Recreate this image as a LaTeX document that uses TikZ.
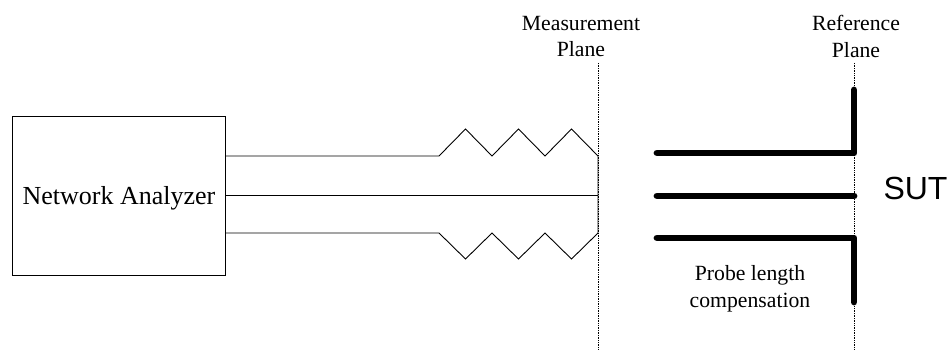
\documentclass[tikz,border=0pt]{standalone}
\usepackage{fontspec}
\setmainfont{Liberation Serif}
\newfontfamily\sutfont{Liberation Sans}

\tikzset{
    label/.style={align=center, inner sep=0pt, font=\fontsize{21.7}{26.5}\selectfont},
    wire/.style={line width=0.9pt, line join=miter},
    probe/.style={line width=6.8pt, line cap=round, line join=round},
    plane/.style={line width=0.7pt, densely dotted}
}

\begin{document}
\begin{tikzpicture}[x=1pt, y=-1pt]
    \useasboundingbox (0, 0) rectangle (950, 350);

    % Analyzer
    \node[draw, line width=0.9pt, minimum width=213pt, minimum height=159pt, inner sep=0pt] (na) at (119, 195.5) {};
    \node[inner sep=0pt, font=\fontsize{26}{30}\selectfont] (natext) at (119, 198) {Network Analyzer};

    % Planes
    \coordinate (mtop) at (598, 63);
    \coordinate (mbot) at (598, 350);
    \coordinate (rtop) at (854, 63);
    \coordinate (rbot) at (854, 350);
    \draw[plane] (mtop) -- (mbot);
    \draw[plane] (rtop) -- (rbot);
    \node[label] (mlabel) at (581, 36.5) {Measurement\\Plane};
    \node[label] (rlabel) at (856, 36.5) {Reference\\Plane};

    % Cable
    \coordinate (t0) at (225.5, 156);
    \coordinate (m0) at (225.5, 195.7);
    \coordinate (b0) at (225.5, 233);
    \coordinate (t1) at (439, 156);
    \coordinate (b1) at (439, 233);
    \coordinate (t2) at (598, 156);
    \coordinate (m2) at (598, 195.7);
    \coordinate (b2) at (598, 233);
    \draw[wire] (t0) -- (t1) -- ++(26.5, -27) -- ++(26.5, 27) -- ++(26.5, -27) -- ++(26.5, 27) -- ++(26.5, -27) -- (t2) -- (b2) -- ++(-26.5, 26) -- ++(-26.5, -26) -- ++(-26.5, 26) -- ++(-26.5, -26) -- ++(-26.5, 26) -- (b1) -- (b0);
    \draw[wire] (m0) -- (m2);

    % Probe
    \coordinate (p1) at (657, 153);
    \coordinate (p2) at (854, 153);
    \coordinate (p3) at (854, 90);
    \coordinate (p4) at (657, 196);
    \coordinate (p5) at (854, 196);
    \coordinate (p6) at (657, 238);
    \coordinate (p7) at (854, 238);
    \coordinate (p8) at (854, 302);
    \draw[probe] (p1) -- (p2) -- (p3);
    \draw[probe] (p4) -- (p5);
    \draw[probe] (p6) -- (p7) -- (p8);

    \node[inner sep=0pt, font=\sutfont\fontsize{32}{36}\selectfont] (sut) at (915.5, 188.5) {SUT};
    \node[label] (comp) at (750, 289) {Probe length\\compensation};
\end{tikzpicture}
\end{document}
